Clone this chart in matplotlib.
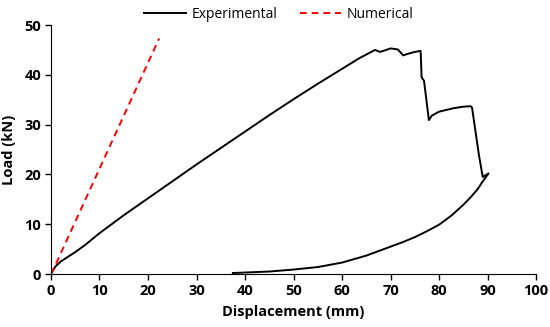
import matplotlib
matplotlib.use("Agg")
import matplotlib.pyplot as plt

# experimental load-displacement (loading branch, then unloading branch)
exp_load_x = [0, 0.5, 1, 2, 3, 5, 7, 10, 15, 20, 25, 30, 35, 40, 45, 50, 55, 60,
              63.5, 66.8, 67.8, 68.5, 70, 71.5, 72.6, 73.5, 75, 76.2, 76.4, 76.9, 77.9,
              78.5, 80, 83, 85, 86.5, 86.8, 88.2, 89, 90.2]
exp_load_y = [0, 0.9, 1.6, 2.5, 3.15, 4.4, 5.8, 8.2, 11.8, 15.2, 18.6, 22.0, 25.3,
              28.6, 31.9, 35.1, 38.2, 41.2, 43.3, 45.0, 44.6, 44.8, 45.3, 45.1, 43.9,
              44.2, 44.6, 44.8, 39.5, 38.8, 30.9, 31.8, 32.6, 33.3, 33.6, 33.7, 33.4,
              24.0, 19.5, 20.2]
exp_unload_x = [90.2, 89, 88, 86.5, 85, 82.5, 80, 77.5, 75, 72.5, 70, 65, 60, 55, 50,
                45, 40, 37.5]
exp_unload_y = [20.2, 18.6, 17.1, 15.4, 13.9, 11.7, 9.9, 8.6, 7.4, 6.4, 5.5, 3.7,
                2.3, 1.4, 0.9, 0.5, 0.3, 0.2]
num_x = [0, 1, 22.3]
num_y = [0, 2.0, 47.3]

plt.rcParams["font.family"] = ["Open Sans", "DejaVu Sans"]

fig = plt.figure(figsize=(5.5, 3.27), dpi=100)
ax = fig.add_axes([0.0927, 0.162, 0.882, 0.7615])

ax.plot(exp_load_x + exp_unload_x[1:], exp_load_y + exp_unload_y[1:],
        color="black", lw=1.4, label="Experimental")
ax.plot(num_x, num_y, color="#ff0000", lw=1.4, ls=(0, (3.5, 2.5)), label="Numerical")

ax.set_xlim(0, 100)
ax.set_ylim(0, 50)
ax.set_xticks(range(0, 101, 10))
ax.set_yticks(range(0, 51, 10))
for s in ["top", "right"]:
    ax.spines[s].set_visible(False)
ax.tick_params(direction="out", length=4, width=1, labelsize=10.5, pad=3)
for lbl in ax.get_xticklabels() + ax.get_yticklabels():
    lbl.set_fontweight("bold")
ax.set_xlabel("Displacement (mm)", fontsize=10.5, fontweight="bold", labelpad=5)
ax.set_ylabel("Load (kN)", fontsize=10.5, fontweight="bold", labelpad=6)

ax.legend(loc="lower center", bbox_to_anchor=(0.47, 0.99), ncol=2, frameon=False,
          fontsize=10, handlelength=3.0, handletextpad=0.4, columnspacing=1.6,
          borderaxespad=0)

fig.savefig("out.png", dpi=100)
